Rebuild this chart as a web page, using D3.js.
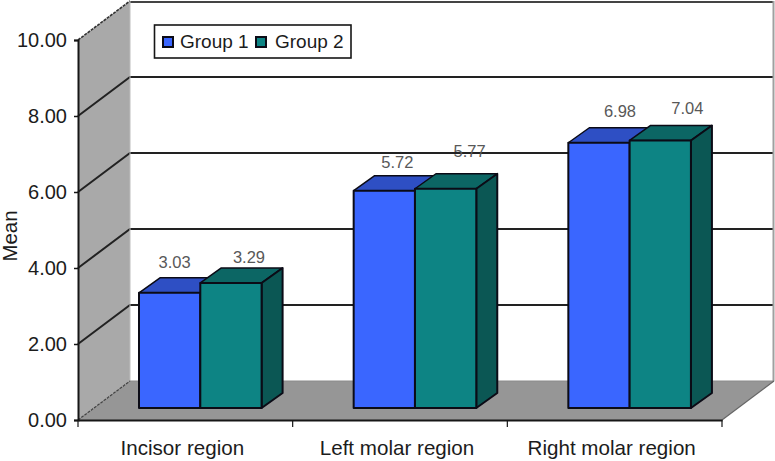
<!DOCTYPE html>
<html><head><meta charset="utf-8">
<style>html,body{margin:0;padding:0;background:#fff}svg{display:block}text{font-family:"Liberation Sans",Arial,sans-serif}</style>
<script src="https://cdn.jsdelivr.net/npm/d3@7/dist/d3.min.js"></script>
</head><body><svg id="c" width="775" height="461"></svg>
<script>
const categories = ["Incisor region","Left molar region","Right molar region"];
const seriesNames = ["Group 1","Group 2"];
const group1 = [3.03,5.72,6.98];
const group2 = [3.29,5.77,7.04];
const yTicks = [0,2,4,6,8,10];

const colors = [{front:"#3a66ff",top:"#2e4fc4",side:"#2e4fc4"},{front:"#0d8484",top:"#0c6664",side:"#0b5754"}];
const ink="#161616";
const svg=d3.select("#c");
const x0=78,x1=722,y0=420,y1=40,dx=52,dy=39;
const x=d3.scaleBand().domain(categories).range([x0,x1]);
const y=d3.scaleLinear().domain([0,10]).range([y0,y1]);
const poly=(pts,fill,stroke,w)=>svg.append("polygon").attr("points",pts.map(p=>p.join(",")).join(" ")).attr("fill",fill).attr("stroke",stroke||"none").attr("stroke-width",w||0).attr("stroke-linejoin","round");

// walls and floor
poly([[x0,y(0)],[x0+dx,y(0)-dy],[x0+dx,y(10)-dy],[x0,y(10)]],"#a9a9a9");
poly([[x0,y(0)],[x0+dx,y(0)-dy],[x1+dx,y(0)-dy],[x1,y(0)]],"#969696");
// gridlines
yTicks.slice(1).forEach(t=>{
  svg.append("path").attr("fill","none").attr("stroke",t==10?"#333":"#222").attr("stroke-width",t==10?1.6:2)
    .attr("stroke-dasharray",t==10?"3,1":null)
    .attr("d",t==10?`M${x0},${y(t)}L${x0+dx},${y(t)-dy}`:`M${x0},${y(t)}L${x0+dx},${y(t)-dy}H${x1+dx}`);
});
svg.append("line").attr("x1",x0+dx).attr("x2",x1+dx).attr("y1",y(10)-dy+1).attr("y2",y(10)-dy+1).attr("stroke","#444").attr("stroke-width",2);
svg.append("line").attr("x1",x0+dx).attr("x2",x0+dx).attr("y1",y(10)-dy).attr("y2",y(0)-dy).attr("stroke","#bdbdbd").attr("stroke-width",1);
svg.append("line").attr("x1",x1+dx-0.5).attr("x2",x1+dx-0.5).attr("y1",y(10)-dy).attr("y2",y(0)-dy).attr("stroke","#a0a0a0").attr("stroke-width",2);
svg.append("line").attr("x1",x0+dx).attr("x2",x1+dx).attr("y1",y(0)-dy).attr("y2",y(0)-dy).attr("stroke","#8a8a8a").attr("stroke-width",1);
svg.append("path").attr("fill","none").attr("stroke","#444").attr("stroke-width",1.2).attr("stroke-dasharray","3,1").attr("d",`M${x0},${y(0)}L${x0+dx},${y(0)-dy}`);
svg.append("path").attr("fill","none").attr("stroke","#666").attr("stroke-width",1.2).attr("d",`M${x1},${y(0)}L${x1+dx},${y(0)-dy}`);

// axes
const yAxis=d3.axisLeft(y).tickValues(yTicks).tickFormat(d3.format(".2f")).tickSize(4).tickPadding(7);
const gy=svg.append("g").attr("transform",`translate(${x0},0)`).call(yAxis);
const xAxis=d3.axisBottom(x).tickSize(0).tickPadding(20);
const gx=svg.append("g").attr("transform",`translate(0,${y0})`).call(xAxis);
[gy,gx].forEach(g=>{g.selectAll("path").attr("stroke",ink).attr("stroke-width",2);g.selectAll("line").attr("stroke",ink).attr("stroke-width",1.5);g.selectAll("text").attr("fill","#1c1c1c").attr("font-family",'"Liberation Sans",Arial,sans-serif');});
gy.selectAll("text").attr("font-size",20);
gx.selectAll("text").attr("font-size",20.6).attr("dx",-3);
gx.selectAll(".tickb").data([x0,...categories.map(c=>x(c)+x.bandwidth())]).enter().append("line").attr("x1",d=>d).attr("x2",d=>d).attr("y1",0).attr("y2",7).attr("stroke",ink).attr("stroke-width",1.2);

svg.append("text").attr("transform","translate(17,236) rotate(-90)").attr("text-anchor","middle").attr("font-size",20.4).attr("fill","#1c1c1c").text("Mean");

// bars
const barW=61.3,inset=61,liftY=12,bdx=21,bdy=15;
const sw=2;
const labelNudge=[[[0,0],[13,5]],[[8,2],[19,-7]],[[16,-1],[22,-1]]];
[group1,group2].forEach((vals,s)=>{
  vals.forEach((v,i)=>{
    const L=x(categories[i])+inset+s*barW,R=L+barW,B=y0-liftY,T=y(v)-liftY,c=colors[s];
    poly([[L,T],[L+bdx,T-bdy],[R+bdx,T-bdy],[R,T]],c.top,"#0b0b16",sw-0.5);
    poly([[R,T],[R+bdx,T-bdy],[R+bdx,B-bdy],[R,B]],c.side,"#0b0b16",sw);
    poly([[L,T],[R,T],[R,B],[L,B]],c.front,"#0b0b16",sw);
  });
});
// data labels
[group1,group2].forEach((vals,s)=>{
  vals.forEach((v,i)=>{
    const L=x(categories[i])+inset+s*barW,T=y(v)-liftY,n=labelNudge[i][s];
    svg.append("text").attr("x",L+barW/2+5+n[0]).attr("y",T-25+n[1]).attr("text-anchor","middle").attr("font-size",16.5).attr("fill","#585858").text(v.toFixed(2));
  });
});

// legend
svg.append("rect").attr("x",154.5).attr("y",25).attr("width",196.5).attr("height",33).attr("fill","#fff").attr("stroke",ink).attr("stroke-width",1.6);
[[163,180],[256,275]].forEach((p,i)=>{
  svg.append("rect").attr("x",p[0]).attr("y",37).attr("width",10).attr("height",10).attr("fill",colors[i].front).attr("stroke","#0b0b16").attr("stroke-width",2);
  svg.append("text").attr("x",p[1]).attr("y",48).attr("font-size",19).attr("fill","#1c1c1c").text(seriesNames[i]);
});
</script></body></html>
